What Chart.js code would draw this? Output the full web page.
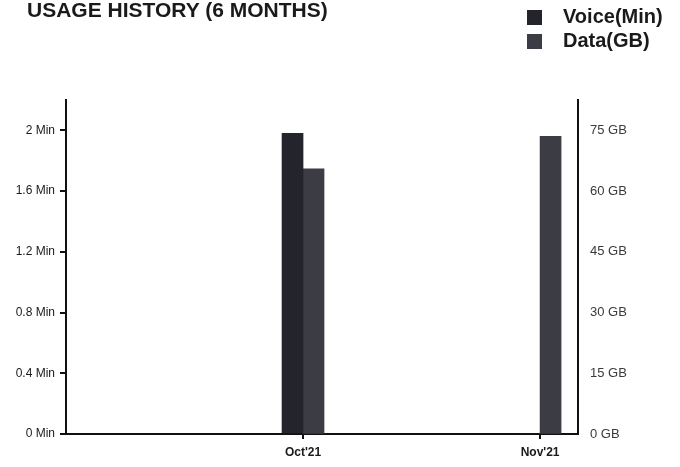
<!DOCTYPE html>
<html>
<head>
<meta charset="utf-8">
<script src="https://cdn.jsdelivr.net/npm/chart.js@4/dist/chart.umd.min.js"></script>
<style>
  html, body { margin: 0; padding: 0; background: #fff; }
  .wrap { position: relative; width: 680px; height: 467px; }
  #usageChart { display: block; }
  .title { position: absolute; left: 27px; top: -1px; font: bold 21px 'Liberation Sans', Arial, sans-serif; line-height: 21px; color: #1a1a1a; white-space: nowrap; }
  .legend { position: absolute; left: 527px; top: 4px; font: bold 20px 'Liberation Sans', Arial, sans-serif; color: #1a1a1a; }
  .legend div { height: 24px; line-height: 24px; white-space: nowrap; }
  .legend span { display: inline-block; width: 15px; height: 15px; margin-right: 21px; vertical-align: -2px; }
</style>
</head>
<body>
<div class="wrap">
  <canvas id="usageChart" width="680" height="467"></canvas>
  <div class="title">USAGE HISTORY (6 MONTHS)</div>
  <div class="legend" id="usageLegend"></div>
</div>
<script>
// month number (2021) and labels
const months = [10, 11];
const monthLabels = ["Oct'21", "Nov'21"];
const voiceMin = [1.98, 0];
const dataGB = [65.5, 73.5];
const minTicks = [0, 0.4, 0.8, 1.2, 1.6, 2];
const gbTicks = [0, 15, 30, 45, 60, 75];

const FONT = "'Liberation Sans', Arial, sans-serif";

function _points(vals) {
  return months.map((m, i) => ({ x: m, y: vals[i] }));
}

const chart = new Chart(document.getElementById('usageChart').getContext('2d'), {
  type: 'bar',
  data: {
    datasets: [{
      label: 'Voice(Min)',
      data: _points(voiceMin),
      backgroundColor: '#24242c',
      yAxisID: 'y',
      barThickness: 21
    }, {
      label: 'Data(GB)',
      data: _points(dataGB),
      backgroundColor: '#3c3c44',
      yAxisID: 'y1',
      barThickness: 21
    }]
  },
  options: {
    responsive: false,
    animation: false,
    layout: { padding: { left: 0, right: 0, top: 100, bottom: 0 } },
    plugins: {
      legend: { display: false },
      tooltip: { enabled: false },
      title: { display: false }
    },
    scales: {
      x: {
        type: 'linear',
        min: 9,
        max: 11.16,
        offset: false,
        grid: { offset: false, drawOnChartArea: false, drawTicks: true, tickLength: 5, color: '#111', lineWidth: 2 },
        border: { display: true, color: '#111', width: 2 },
        afterBuildTicks: s => { s.ticks = months.map(v => ({ value: v })); },
        afterFit: s => { s.height = 33; },
        ticks: {
          padding: 6,
          color: '#1a1a1a',
          font: { family: FONT, size: 12, weight: 'bold' },
          callback: v => monthLabels[months.indexOf(v)]
        }
      },
      y: {
        position: 'left',
        min: 0,
        max: 2.2,
        grid: { drawOnChartArea: false, drawTicks: true, tickLength: 6, color: '#111', lineWidth: 2 },
        border: { display: true, color: '#111', width: 2 },
        afterBuildTicks: s => { s.ticks = minTicks.map(v => ({ value: v })); },
        afterFit: s => { s.width = 66; },
        ticks: {
          padding: 5,
          color: '#1a1a1a',
          font: { family: FONT, size: 12 },
          callback: v => v + ' Min'
        }
      },
      y1: {
        position: 'right',
        min: 0,
        max: 82.5,
        grid: { drawOnChartArea: false, drawTicks: false },
        border: { display: true, color: '#111', width: 2 },
        afterBuildTicks: s => { s.ticks = gbTicks.map(v => ({ value: v })); },
        afterFit: s => { s.width = 102; },
        ticks: {
          padding: 12,
          color: '#3a3a3a',
          font: { family: FONT, size: 13 },
          callback: v => v + ' GB'
        }
      }
    }
  }
});

// legend, stacked like the printed statement
const legendEl = document.getElementById('usageLegend');
chart.data.datasets.forEach(ds => {
  const row = document.createElement('div');
  const sw = document.createElement('span');
  sw.style.background = ds.backgroundColor;
  row.appendChild(sw);
  row.appendChild(document.createTextNode(ds.label));
  legendEl.appendChild(row);
});
</script>
</body>
</html>
